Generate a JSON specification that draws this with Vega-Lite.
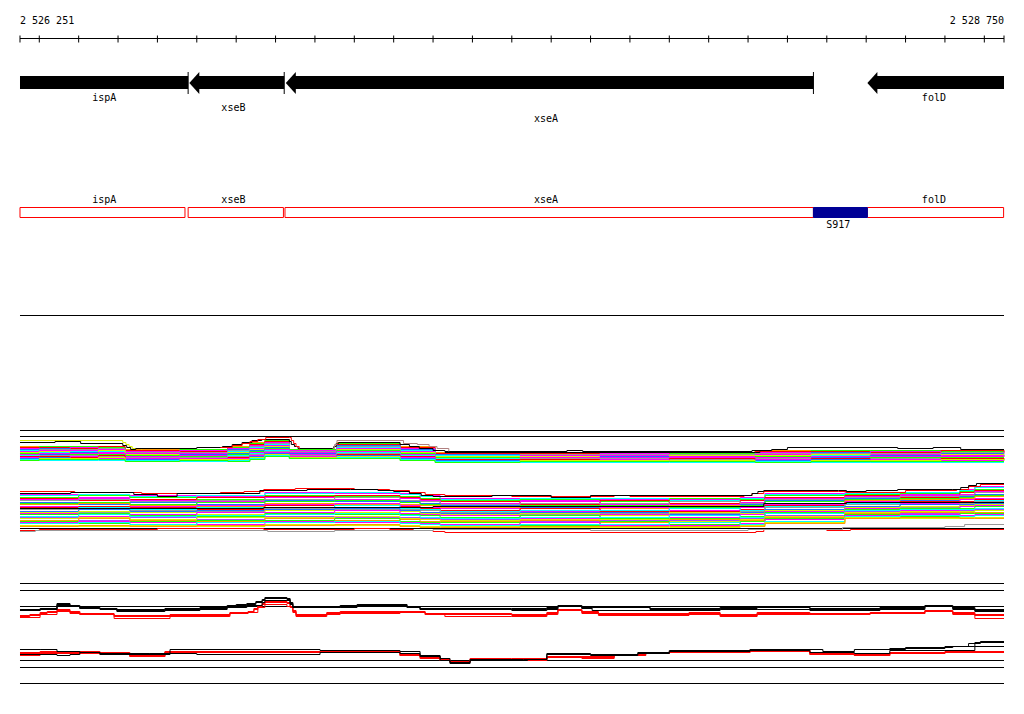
{
"$schema":"https://vega.github.io/schema/vega-lite/v6.json",
"width":1024,"height":714,"padding":0,"autosize":{"type":"none"},
"background":"#ffffff",
"config":{"view":{"stroke":null},"text":{"font":"DejaVu Sans Mono","fontSize":10,"color":"#000000"}},
"datasets":{
"hlines":[{"level":38},{"level":315},{"level":430},{"level":436},{"level":528},{"level":583},{"level":590},{"level":606},{"level":660},{"level":667},{"level":683}],
"ticks":[{"pos":2526251},{"pos":2526300},{"pos":2526400},{"pos":2526500},{"pos":2526600},{"pos":2526700},{"pos":2526800},{"pos":2526900},{"pos":2527000},{"pos":2527100},{"pos":2527200},{"pos":2527300},{"pos":2527400},{"pos":2527500},{"pos":2527600},{"pos":2527700},{"pos":2527800},{"pos":2527900},{"pos":2528000},{"pos":2528100},{"pos":2528200},{"pos":2528300},{"pos":2528400},{"pos":2528500},{"pos":2528600},{"pos":2528700},{"pos":2528750}],
"genes":[
{"gene":"ispA","start":2526251,"end":2526678,"mid":2526465,"lane":0,"head":false,"endtick":true},
{"gene":"xseB","start":2526681,"end":2526922,"mid":2526793,"lane":1,"head":true,"endtick":true},
{"gene":"xseA","start":2526926,"end":2528266,"mid":2527587,"lane":2,"head":true,"endtick":true},
{"gene":"folD","start":2528403,"end":2528750,"mid":2528572,"lane":0,"head":true,"endtick":false}],
"features":[
{"name":"ispA","start":2526251,"end":2526670,"mid":2526465,"kind":"gene"},
{"name":"xseB","start":2526678,"end":2526920,"mid":2526793,"kind":"gene"},
{"name":"xseA","start":2526924,"end":2528266,"mid":2527587,"kind":"gene"},
{"name":"folD","start":2528403,"end":2528749,"mid":2528572,"kind":"gene"},
{"name":"S917","start":2528266,"end":2528403,"mid":2528329,"kind":"region"}],
"series":[
{"s":"a0","c":"o"},{"s":"a1","c":"g"},{"s":"a2","c":"r"},{"s":"a3","c":"m"},{"s":"a4","c":"b"},{"s":"a5","c":"e"},{"s":"a6","c":"c"},{"s":"a7","c":"m"},{"s":"a8","c":"y"},{"s":"a9","c":"b"},{"s":"a10","c":"g"},{"s":"a11","c":"m"},{"s":"a12","c":"c"},{"s":"a13","c":"e"},{"s":"a14","c":"r"},{"s":"a15","c":"m"},{"s":"a16","c":"b"},{"s":"a17","c":"y"},{"s":"a18","c":"c"},{"s":"a19","c":"g"},
{"s":"b0","c":"m"},{"s":"b1","c":"c"},{"s":"b2","c":"g"},{"s":"b3","c":"r"},{"s":"b4","c":"m"},{"s":"b5","c":"e"},{"s":"b6","c":"b"},{"s":"b7","c":"g"},{"s":"b8","c":"o"},{"s":"b9","c":"m"},{"s":"b10","c":"r"},{"s":"b11","c":"c"},{"s":"b12","c":"e"},{"s":"b13","c":"b"},{"s":"b14","c":"y"},{"s":"b15","c":"m"},{"s":"b16","c":"g"},{"s":"b17","c":"c"},{"s":"b18","c":"p"},{"s":"b19","c":"y"},{"s":"b20","c":"o"},{"s":"b21","c":"g"},{"s":"b22","c":"m"},{"s":"b23","c":"c"},{"s":"b24","c":"y"},{"s":"b25","c":"o"},
{"s":"y1","c":"y"},{"s":"k1","c":"k"},{"s":"r1","c":"r"},{"s":"n1","c":"n"},{"s":"k2","c":"k"},{"s":"r2","c":"r"},{"s":"k3","c":"k"},{"s":"k4","c":"k"},{"s":"r3","c":"r"},{"s":"e1","c":"e"},
{"s":"ru1","c":"r"},{"s":"ru2","c":"r"},{"s":"ru3","c":"r"},{"s":"ku1","c":"k"},{"s":"ku2","c":"k"},{"s":"ku3","c":"k"},{"s":"rl1","c":"r"},{"s":"rl2","c":"r"},{"s":"rl3","c":"r"},{"s":"kl1","c":"k"},{"s":"kl2","c":"k"},{"s":"kl3","c":"k"}],
"band":[
{"s":"a0","x":2526251,"y":446},{"s":"a0","x":2526378,"y":447},{"s":"a0","x":2526518,"y":449},{"s":"a0","x":2526657,"y":450},{"s":"a0","x":2526779,"y":446},{"s":"a0","x":2526835,"y":442},{"s":"a0","x":2526873,"y":439},{"s":"a0","x":2526935,"y":449},{"s":"a0","x":2527056,"y":442},{"s":"a0","x":2527216,"y":446},{"s":"a0","x":2527305,"y":452},{"s":"a0","x":2527724,"y":453},{"s":"a0","x":2528118,"y":450},{"s":"a0","x":2528410,"y":451},{"s":"a0","x":2528750,"y":451},
{"s":"a1","x":2526251,"y":447},{"s":"a1","x":2526378,"y":446},{"s":"a1","x":2526518,"y":450},{"s":"a1","x":2526657,"y":449},{"s":"a1","x":2526779,"y":447},{"s":"a1","x":2526835,"y":443},{"s":"a1","x":2526873,"y":440},{"s":"a1","x":2526935,"y":449},{"s":"a1","x":2527056,"y":443},{"s":"a1","x":2527216,"y":447},{"s":"a1","x":2527305,"y":453},{"s":"a1","x":2527724,"y":452},{"s":"a1","x":2528118,"y":451},{"s":"a1","x":2528410,"y":450},{"s":"a1","x":2528750,"y":450},
{"s":"a2","x":2526251,"y":447},{"s":"a2","x":2526378,"y":448},{"s":"a2","x":2526518,"y":450},{"s":"a2","x":2526657,"y":451},{"s":"a2","x":2526779,"y":448},{"s":"a2","x":2526835,"y":444},{"s":"a2","x":2526873,"y":441},{"s":"a2","x":2526935,"y":450},{"s":"a2","x":2527056,"y":444},{"s":"a2","x":2527216,"y":447},{"s":"a2","x":2527305,"y":453},{"s":"a2","x":2527724,"y":454},{"s":"a2","x":2528118,"y":451},{"s":"a2","x":2528410,"y":452},{"s":"a2","x":2528750,"y":452},
{"s":"a3","x":2526251,"y":448},{"s":"a3","x":2526378,"y":447},{"s":"a3","x":2526518,"y":451},{"s":"a3","x":2526657,"y":450},{"s":"a3","x":2526779,"y":448},{"s":"a3","x":2526835,"y":445},{"s":"a3","x":2526873,"y":442},{"s":"a3","x":2526935,"y":450},{"s":"a3","x":2527056,"y":445},{"s":"a3","x":2527216,"y":448},{"s":"a3","x":2527305,"y":454},{"s":"a3","x":2527724,"y":453},{"s":"a3","x":2528118,"y":452},{"s":"a3","x":2528410,"y":451},{"s":"a3","x":2528750,"y":451},
{"s":"a4","x":2526251,"y":449},{"s":"a4","x":2526378,"y":450},{"s":"a4","x":2526518,"y":452},{"s":"a4","x":2526657,"y":452},{"s":"a4","x":2526779,"y":449},{"s":"a4","x":2526835,"y":446},{"s":"a4","x":2526873,"y":443},{"s":"a4","x":2526935,"y":451},{"s":"a4","x":2527056,"y":445},{"s":"a4","x":2527216,"y":449},{"s":"a4","x":2527305,"y":454},{"s":"a4","x":2527724,"y":455},{"s":"a4","x":2528118,"y":453},{"s":"a4","x":2528410,"y":453},{"s":"a4","x":2528750,"y":453},
{"s":"a5","x":2526251,"y":450},{"s":"a5","x":2526378,"y":449},{"s":"a5","x":2526518,"y":452},{"s":"a5","x":2526657,"y":452},{"s":"a5","x":2526779,"y":450},{"s":"a5","x":2526835,"y":446},{"s":"a5","x":2526873,"y":443},{"s":"a5","x":2526935,"y":451},{"s":"a5","x":2527056,"y":446},{"s":"a5","x":2527216,"y":450},{"s":"a5","x":2527305,"y":455},{"s":"a5","x":2527724,"y":454},{"s":"a5","x":2528118,"y":453},{"s":"a5","x":2528410,"y":453},{"s":"a5","x":2528750,"y":453},
{"s":"a6","x":2526251,"y":450},{"s":"a6","x":2526378,"y":451},{"s":"a6","x":2526518,"y":453},{"s":"a6","x":2526657,"y":453},{"s":"a6","x":2526779,"y":451},{"s":"a6","x":2526835,"y":447},{"s":"a6","x":2526873,"y":444},{"s":"a6","x":2526935,"y":452},{"s":"a6","x":2527056,"y":447},{"s":"a6","x":2527216,"y":450},{"s":"a6","x":2527305,"y":455},{"s":"a6","x":2527724,"y":456},{"s":"a6","x":2528118,"y":454},{"s":"a6","x":2528410,"y":454},{"s":"a6","x":2528750,"y":454},
{"s":"a7","x":2526251,"y":451},{"s":"a7","x":2526378,"y":450},{"s":"a7","x":2526518,"y":453},{"s":"a7","x":2526657,"y":453},{"s":"a7","x":2526779,"y":452},{"s":"a7","x":2526835,"y":448},{"s":"a7","x":2526873,"y":445},{"s":"a7","x":2526935,"y":452},{"s":"a7","x":2527056,"y":448},{"s":"a7","x":2527216,"y":451},{"s":"a7","x":2527305,"y":456},{"s":"a7","x":2527724,"y":455},{"s":"a7","x":2528118,"y":454},{"s":"a7","x":2528410,"y":454},{"s":"a7","x":2528750,"y":454},
{"s":"a8","x":2526251,"y":452},{"s":"a8","x":2526378,"y":453},{"s":"a8","x":2526518,"y":454},{"s":"a8","x":2526657,"y":455},{"s":"a8","x":2526779,"y":452},{"s":"a8","x":2526835,"y":449},{"s":"a8","x":2526873,"y":446},{"s":"a8","x":2526935,"y":453},{"s":"a8","x":2527056,"y":449},{"s":"a8","x":2527216,"y":452},{"s":"a8","x":2527305,"y":456},{"s":"a8","x":2527724,"y":457},{"s":"a8","x":2528118,"y":455},{"s":"a8","x":2528410,"y":456},{"s":"a8","x":2528750,"y":456},
{"s":"a9","x":2526251,"y":453},{"s":"a9","x":2526378,"y":452},{"s":"a9","x":2526518,"y":455},{"s":"a9","x":2526657,"y":454},{"s":"a9","x":2526779,"y":453},{"s":"a9","x":2526835,"y":450},{"s":"a9","x":2526873,"y":447},{"s":"a9","x":2526935,"y":453},{"s":"a9","x":2527056,"y":450},{"s":"a9","x":2527216,"y":453},{"s":"a9","x":2527305,"y":457},{"s":"a9","x":2527724,"y":456},{"s":"a9","x":2528118,"y":456},{"s":"a9","x":2528410,"y":455},{"s":"a9","x":2528750,"y":455},
{"s":"a10","x":2526251,"y":453},{"s":"a10","x":2526378,"y":454},{"s":"a10","x":2526518,"y":455},{"s":"a10","x":2526657,"y":456},{"s":"a10","x":2526779,"y":454},{"s":"a10","x":2526835,"y":451},{"s":"a10","x":2526873,"y":448},{"s":"a10","x":2526935,"y":454},{"s":"a10","x":2527056,"y":450},{"s":"a10","x":2527216,"y":453},{"s":"a10","x":2527305,"y":457},{"s":"a10","x":2527724,"y":458},{"s":"a10","x":2528118,"y":456},{"s":"a10","x":2528410,"y":457},{"s":"a10","x":2528750,"y":457},
{"s":"a11","x":2526251,"y":454},{"s":"a11","x":2526378,"y":453},{"s":"a11","x":2526518,"y":456},{"s":"a11","x":2526657,"y":455},{"s":"a11","x":2526779,"y":455},{"s":"a11","x":2526835,"y":452},{"s":"a11","x":2526873,"y":449},{"s":"a11","x":2526935,"y":454},{"s":"a11","x":2527056,"y":451},{"s":"a11","x":2527216,"y":454},{"s":"a11","x":2527305,"y":458},{"s":"a11","x":2527724,"y":457},{"s":"a11","x":2528118,"y":457},{"s":"a11","x":2528410,"y":456},{"s":"a11","x":2528750,"y":456},
{"s":"a12","x":2526251,"y":455},{"s":"a12","x":2526378,"y":456},{"s":"a12","x":2526518,"y":457},{"s":"a12","x":2526657,"y":457},{"s":"a12","x":2526779,"y":455},{"s":"a12","x":2526835,"y":453},{"s":"a12","x":2526873,"y":450},{"s":"a12","x":2526935,"y":455},{"s":"a12","x":2527056,"y":452},{"s":"a12","x":2527216,"y":455},{"s":"a12","x":2527305,"y":458},{"s":"a12","x":2527724,"y":459},{"s":"a12","x":2528118,"y":458},{"s":"a12","x":2528410,"y":458},{"s":"a12","x":2528750,"y":458},
{"s":"a13","x":2526251,"y":456},{"s":"a13","x":2526378,"y":455},{"s":"a13","x":2526518,"y":457},{"s":"a13","x":2526657,"y":457},{"s":"a13","x":2526779,"y":456},{"s":"a13","x":2526835,"y":454},{"s":"a13","x":2526873,"y":451},{"s":"a13","x":2526935,"y":455},{"s":"a13","x":2527056,"y":453},{"s":"a13","x":2527216,"y":456},{"s":"a13","x":2527305,"y":459},{"s":"a13","x":2527724,"y":458},{"s":"a13","x":2528118,"y":458},{"s":"a13","x":2528410,"y":458},{"s":"a13","x":2528750,"y":458},
{"s":"a14","x":2526251,"y":456},{"s":"a14","x":2526378,"y":457},{"s":"a14","x":2526518,"y":458},{"s":"a14","x":2526657,"y":458},{"s":"a14","x":2526779,"y":457},{"s":"a14","x":2526835,"y":455},{"s":"a14","x":2526873,"y":452},{"s":"a14","x":2526935,"y":456},{"s":"a14","x":2527056,"y":454},{"s":"a14","x":2527216,"y":456},{"s":"a14","x":2527305,"y":459},{"s":"a14","x":2527724,"y":460},{"s":"a14","x":2528118,"y":459},{"s":"a14","x":2528410,"y":459},{"s":"a14","x":2528750,"y":459},
{"s":"a15","x":2526251,"y":457},{"s":"a15","x":2526378,"y":456},{"s":"a15","x":2526518,"y":458},{"s":"a15","x":2526657,"y":458},{"s":"a15","x":2526779,"y":458},{"s":"a15","x":2526835,"y":455},{"s":"a15","x":2526873,"y":452},{"s":"a15","x":2526935,"y":456},{"s":"a15","x":2527056,"y":455},{"s":"a15","x":2527216,"y":457},{"s":"a15","x":2527305,"y":460},{"s":"a15","x":2527724,"y":459},{"s":"a15","x":2528118,"y":459},{"s":"a15","x":2528410,"y":459},{"s":"a15","x":2528750,"y":459},
{"s":"a16","x":2526251,"y":458},{"s":"a16","x":2526378,"y":459},{"s":"a16","x":2526518,"y":459},{"s":"a16","x":2526657,"y":460},{"s":"a16","x":2526779,"y":459},{"s":"a16","x":2526835,"y":456},{"s":"a16","x":2526873,"y":453},{"s":"a16","x":2526935,"y":457},{"s":"a16","x":2527056,"y":455},{"s":"a16","x":2527216,"y":458},{"s":"a16","x":2527305,"y":460},{"s":"a16","x":2527724,"y":461},{"s":"a16","x":2528118,"y":460},{"s":"a16","x":2528410,"y":461},{"s":"a16","x":2528750,"y":461},
{"s":"a17","x":2526251,"y":459},{"s":"a17","x":2526378,"y":458},{"s":"a17","x":2526518,"y":460},{"s":"a17","x":2526657,"y":459},{"s":"a17","x":2526779,"y":459},{"s":"a17","x":2526835,"y":457},{"s":"a17","x":2526873,"y":454},{"s":"a17","x":2526935,"y":457},{"s":"a17","x":2527056,"y":456},{"s":"a17","x":2527216,"y":459},{"s":"a17","x":2527305,"y":461},{"s":"a17","x":2527724,"y":460},{"s":"a17","x":2528118,"y":461},{"s":"a17","x":2528410,"y":460},{"s":"a17","x":2528750,"y":460},
{"s":"a18","x":2526251,"y":459},{"s":"a18","x":2526378,"y":460},{"s":"a18","x":2526518,"y":460},{"s":"a18","x":2526657,"y":461},{"s":"a18","x":2526779,"y":460},{"s":"a18","x":2526835,"y":458},{"s":"a18","x":2526873,"y":455},{"s":"a18","x":2526935,"y":458},{"s":"a18","x":2527056,"y":457},{"s":"a18","x":2527216,"y":459},{"s":"a18","x":2527305,"y":461},{"s":"a18","x":2527724,"y":462},{"s":"a18","x":2528118,"y":461},{"s":"a18","x":2528410,"y":462},{"s":"a18","x":2528750,"y":462},
{"s":"a19","x":2526251,"y":460},{"s":"a19","x":2526378,"y":459},{"s":"a19","x":2526518,"y":461},{"s":"a19","x":2526657,"y":460},{"s":"a19","x":2526779,"y":461},{"s":"a19","x":2526835,"y":459},{"s":"a19","x":2526873,"y":456},{"s":"a19","x":2526935,"y":458},{"s":"a19","x":2527056,"y":458},{"s":"a19","x":2527216,"y":460},{"s":"a19","x":2527305,"y":462},{"s":"a19","x":2527724,"y":461},{"s":"a19","x":2528118,"y":462},{"s":"a19","x":2528410,"y":461},{"s":"a19","x":2528750,"y":461},
{"s":"a0","x":2526300,"y":447},{"s":"a0","x":2526450,"y":447},{"s":"a0","x":2527521,"y":453},{"s":"a0","x":2527900,"y":453},{"s":"a0","x":2528260,"y":451},{"s":"a0","x":2528590,"y":451},
{"s":"a1","x":2526300,"y":446},{"s":"a1","x":2526450,"y":447},{"s":"a1","x":2527521,"y":452},{"s":"a1","x":2527900,"y":453},{"s":"a1","x":2528260,"y":450},{"s":"a1","x":2528590,"y":451},
{"s":"a2","x":2526300,"y":447},{"s":"a2","x":2526450,"y":446},{"s":"a2","x":2527521,"y":453},{"s":"a2","x":2527900,"y":452},{"s":"a2","x":2528260,"y":451},{"s":"a2","x":2528590,"y":450},
{"s":"a3","x":2526300,"y":450},{"s":"a3","x":2526450,"y":449},{"s":"a3","x":2527521,"y":455},{"s":"a3","x":2527900,"y":454},{"s":"a3","x":2528260,"y":453},{"s":"a3","x":2528590,"y":453},
{"s":"a4","x":2526300,"y":448},{"s":"a4","x":2526450,"y":450},{"s":"a4","x":2527521,"y":454},{"s":"a4","x":2527900,"y":455},{"s":"a4","x":2528260,"y":452},{"s":"a4","x":2528590,"y":453},
{"s":"a5","x":2526300,"y":449},{"s":"a5","x":2526450,"y":448},{"s":"a5","x":2527521,"y":454},{"s":"a5","x":2527900,"y":454},{"s":"a5","x":2528260,"y":453},{"s":"a5","x":2528590,"y":452},
{"s":"a6","x":2526300,"y":452},{"s":"a6","x":2526450,"y":451},{"s":"a6","x":2527521,"y":456},{"s":"a6","x":2527900,"y":456},{"s":"a6","x":2528260,"y":455},{"s":"a6","x":2528590,"y":454},
{"s":"a7","x":2526300,"y":450},{"s":"a7","x":2526450,"y":452},{"s":"a7","x":2527521,"y":455},{"s":"a7","x":2527900,"y":456},{"s":"a7","x":2528260,"y":454},{"s":"a7","x":2528590,"y":455},
{"s":"a8","x":2526300,"y":451},{"s":"a8","x":2526450,"y":450},{"s":"a8","x":2527521,"y":456},{"s":"a8","x":2527900,"y":455},{"s":"a8","x":2528260,"y":454},{"s":"a8","x":2528590,"y":454},
{"s":"a9","x":2526300,"y":454},{"s":"a9","x":2526450,"y":453},{"s":"a9","x":2527521,"y":458},{"s":"a9","x":2527900,"y":457},{"s":"a9","x":2528260,"y":457},{"s":"a9","x":2528590,"y":456},
{"s":"a10","x":2526300,"y":453},{"s":"a10","x":2526450,"y":454},{"s":"a10","x":2527521,"y":457},{"s":"a10","x":2527900,"y":458},{"s":"a10","x":2528260,"y":456},{"s":"a10","x":2528590,"y":457},
{"s":"a11","x":2526300,"y":453},{"s":"a11","x":2526450,"y":453},{"s":"a11","x":2527521,"y":457},{"s":"a11","x":2527900,"y":457},{"s":"a11","x":2528260,"y":456},{"s":"a11","x":2528590,"y":456},
{"s":"a12","x":2526300,"y":456},{"s":"a12","x":2526450,"y":456},{"s":"a12","x":2527521,"y":459},{"s":"a12","x":2527900,"y":459},{"s":"a12","x":2528260,"y":459},{"s":"a12","x":2528590,"y":458},
{"s":"a13","x":2526300,"y":455},{"s":"a13","x":2526450,"y":456},{"s":"a13","x":2527521,"y":458},{"s":"a13","x":2527900,"y":459},{"s":"a13","x":2528260,"y":458},{"s":"a13","x":2528590,"y":459},
{"s":"a14","x":2526300,"y":456},{"s":"a14","x":2526450,"y":455},{"s":"a14","x":2527521,"y":459},{"s":"a14","x":2527900,"y":458},{"s":"a14","x":2528260,"y":458},{"s":"a14","x":2528590,"y":458},
{"s":"a15","x":2526300,"y":459},{"s":"a15","x":2526450,"y":458},{"s":"a15","x":2527521,"y":461},{"s":"a15","x":2527900,"y":460},{"s":"a15","x":2528260,"y":461},{"s":"a15","x":2528590,"y":460},
{"s":"a16","x":2526300,"y":457},{"s":"a16","x":2526450,"y":459},{"s":"a16","x":2527521,"y":460},{"s":"a16","x":2527900,"y":461},{"s":"a16","x":2528260,"y":459},{"s":"a16","x":2528590,"y":461},
{"s":"a17","x":2526300,"y":458},{"s":"a17","x":2526450,"y":457},{"s":"a17","x":2527521,"y":460},{"s":"a17","x":2527900,"y":460},{"s":"a17","x":2528260,"y":460},{"s":"a17","x":2528590,"y":459},
{"s":"a18","x":2526300,"y":460},{"s":"a18","x":2526450,"y":460},{"s":"a18","x":2527521,"y":462},{"s":"a18","x":2527900,"y":462},{"s":"a18","x":2528260,"y":462},{"s":"a18","x":2528590,"y":462},
{"s":"a19","x":2526300,"y":459},{"s":"a19","x":2526450,"y":459},{"s":"a19","x":2527521,"y":461},{"s":"a19","x":2527900,"y":461},{"s":"a19","x":2528260,"y":461},{"s":"a19","x":2528590,"y":461},
{"s":"b0","x":2526251,"y":494},{"s":"b0","x":2526530,"y":495},{"s":"b0","x":2526700,"y":496},{"s":"b0","x":2526873,"y":492},{"s":"b0","x":2527050,"y":493},{"s":"b0","x":2527216,"y":493},{"s":"b0","x":2527267,"y":495},{"s":"b0","x":2527318,"y":498},{"s":"b0","x":2527724,"y":499},{"s":"b0","x":2528080,"y":497},{"s":"b0","x":2528143,"y":493},{"s":"b0","x":2528346,"y":492},{"s":"b0","x":2528638,"y":489},{"s":"b0","x":2528676,"y":486},{"s":"b0","x":2528750,"y":486},
{"s":"b1","x":2526251,"y":495},{"s":"b1","x":2526530,"y":496},{"s":"b1","x":2526700,"y":495},{"s":"b1","x":2526873,"y":493},{"s":"b1","x":2527050,"y":492},{"s":"b1","x":2527216,"y":494},{"s":"b1","x":2527267,"y":496},{"s":"b1","x":2527318,"y":499},{"s":"b1","x":2527724,"y":498},{"s":"b1","x":2528080,"y":498},{"s":"b1","x":2528143,"y":494},{"s":"b1","x":2528346,"y":493},{"s":"b1","x":2528638,"y":490},{"s":"b1","x":2528676,"y":487},{"s":"b1","x":2528750,"y":487},
{"s":"b2","x":2526251,"y":497},{"s":"b2","x":2526530,"y":497},{"s":"b2","x":2526700,"y":499},{"s":"b2","x":2526873,"y":495},{"s":"b2","x":2527050,"y":496},{"s":"b2","x":2527216,"y":496},{"s":"b2","x":2527267,"y":498},{"s":"b2","x":2527318,"y":500},{"s":"b2","x":2527724,"y":501},{"s":"b2","x":2528080,"y":499},{"s":"b2","x":2528143,"y":495},{"s":"b2","x":2528346,"y":494},{"s":"b2","x":2528638,"y":491},{"s":"b2","x":2528676,"y":489},{"s":"b2","x":2528750,"y":489},
{"s":"b3","x":2526251,"y":498},{"s":"b3","x":2526530,"y":499},{"s":"b3","x":2526700,"y":497},{"s":"b3","x":2526873,"y":496},{"s":"b3","x":2527050,"y":495},{"s":"b3","x":2527216,"y":497},{"s":"b3","x":2527267,"y":499},{"s":"b3","x":2527318,"y":501},{"s":"b3","x":2527724,"y":500},{"s":"b3","x":2528080,"y":500},{"s":"b3","x":2528143,"y":497},{"s":"b3","x":2528346,"y":495},{"s":"b3","x":2528638,"y":492},{"s":"b3","x":2528676,"y":490},{"s":"b3","x":2528750,"y":490},
{"s":"b4","x":2526251,"y":499},{"s":"b4","x":2526530,"y":500},{"s":"b4","x":2526700,"y":501},{"s":"b4","x":2526873,"y":497},{"s":"b4","x":2527050,"y":499},{"s":"b4","x":2527216,"y":498},{"s":"b4","x":2527267,"y":500},{"s":"b4","x":2527318,"y":503},{"s":"b4","x":2527724,"y":504},{"s":"b4","x":2528080,"y":502},{"s":"b4","x":2528143,"y":498},{"s":"b4","x":2528346,"y":496},{"s":"b4","x":2528638,"y":494},{"s":"b4","x":2528676,"y":491},{"s":"b4","x":2528750,"y":491},
{"s":"b5","x":2526251,"y":500},{"s":"b5","x":2526530,"y":501},{"s":"b5","x":2526700,"y":500},{"s":"b5","x":2526873,"y":499},{"s":"b5","x":2527050,"y":497},{"s":"b5","x":2527216,"y":500},{"s":"b5","x":2527267,"y":501},{"s":"b5","x":2527318,"y":504},{"s":"b5","x":2527724,"y":503},{"s":"b5","x":2528080,"y":503},{"s":"b5","x":2528143,"y":499},{"s":"b5","x":2528346,"y":497},{"s":"b5","x":2528638,"y":495},{"s":"b5","x":2528676,"y":492},{"s":"b5","x":2528750,"y":492},
{"s":"b6","x":2526251,"y":502},{"s":"b6","x":2526530,"y":502},{"s":"b6","x":2526700,"y":504},{"s":"b6","x":2526873,"y":500},{"s":"b6","x":2527050,"y":501},{"s":"b6","x":2527216,"y":501},{"s":"b6","x":2527267,"y":503},{"s":"b6","x":2527318,"y":505},{"s":"b6","x":2527724,"y":506},{"s":"b6","x":2528080,"y":504},{"s":"b6","x":2528143,"y":500},{"s":"b6","x":2528346,"y":498},{"s":"b6","x":2528638,"y":496},{"s":"b6","x":2528676,"y":494},{"s":"b6","x":2528750,"y":494},
{"s":"b7","x":2526251,"y":503},{"s":"b7","x":2526530,"y":504},{"s":"b7","x":2526700,"y":502},{"s":"b7","x":2526873,"y":501},{"s":"b7","x":2527050,"y":500},{"s":"b7","x":2527216,"y":502},{"s":"b7","x":2527267,"y":504},{"s":"b7","x":2527318,"y":506},{"s":"b7","x":2527724,"y":505},{"s":"b7","x":2528080,"y":505},{"s":"b7","x":2528143,"y":501},{"s":"b7","x":2528346,"y":499},{"s":"b7","x":2528638,"y":497},{"s":"b7","x":2528676,"y":495},{"s":"b7","x":2528750,"y":495},
{"s":"b8","x":2526251,"y":504},{"s":"b8","x":2526530,"y":505},{"s":"b8","x":2526700,"y":506},{"s":"b8","x":2526873,"y":503},{"s":"b8","x":2527050,"y":504},{"s":"b8","x":2527216,"y":504},{"s":"b8","x":2527267,"y":505},{"s":"b8","x":2527318,"y":507},{"s":"b8","x":2527724,"y":508},{"s":"b8","x":2528080,"y":506},{"s":"b8","x":2528143,"y":503},{"s":"b8","x":2528346,"y":500},{"s":"b8","x":2528638,"y":498},{"s":"b8","x":2528676,"y":496},{"s":"b8","x":2528750,"y":496},
{"s":"b9","x":2526251,"y":506},{"s":"b9","x":2526530,"y":506},{"s":"b9","x":2526700,"y":505},{"s":"b9","x":2526873,"y":504},{"s":"b9","x":2527050,"y":503},{"s":"b9","x":2527216,"y":505},{"s":"b9","x":2527267,"y":507},{"s":"b9","x":2527318,"y":508},{"s":"b9","x":2527724,"y":507},{"s":"b9","x":2528080,"y":507},{"s":"b9","x":2528143,"y":504},{"s":"b9","x":2528346,"y":501},{"s":"b9","x":2528638,"y":499},{"s":"b9","x":2528676,"y":498},{"s":"b9","x":2528750,"y":498},
{"s":"b10","x":2526251,"y":507},{"s":"b10","x":2526530,"y":507},{"s":"b10","x":2526700,"y":509},{"s":"b10","x":2526873,"y":505},{"s":"b10","x":2527050,"y":507},{"s":"b10","x":2527216,"y":506},{"s":"b10","x":2527267,"y":508},{"s":"b10","x":2527318,"y":510},{"s":"b10","x":2527724,"y":511},{"s":"b10","x":2528080,"y":509},{"s":"b10","x":2528143,"y":505},{"s":"b10","x":2528346,"y":502},{"s":"b10","x":2528638,"y":501},{"s":"b10","x":2528676,"y":499},{"s":"b10","x":2528750,"y":499},
{"s":"b11","x":2526251,"y":508},{"s":"b11","x":2526530,"y":509},{"s":"b11","x":2526700,"y":507},{"s":"b11","x":2526873,"y":507},{"s":"b11","x":2527050,"y":505},{"s":"b11","x":2527216,"y":508},{"s":"b11","x":2527267,"y":509},{"s":"b11","x":2527318,"y":511},{"s":"b11","x":2527724,"y":510},{"s":"b11","x":2528080,"y":510},{"s":"b11","x":2528143,"y":506},{"s":"b11","x":2528346,"y":503},{"s":"b11","x":2528638,"y":502},{"s":"b11","x":2528676,"y":500},{"s":"b11","x":2528750,"y":500},
{"s":"b12","x":2526251,"y":509},{"s":"b12","x":2526530,"y":510},{"s":"b12","x":2526700,"y":511},{"s":"b12","x":2526873,"y":508},{"s":"b12","x":2527050,"y":509},{"s":"b12","x":2527216,"y":509},{"s":"b12","x":2527267,"y":510},{"s":"b12","x":2527318,"y":512},{"s":"b12","x":2527724,"y":513},{"s":"b12","x":2528080,"y":511},{"s":"b12","x":2528143,"y":507},{"s":"b12","x":2528346,"y":504},{"s":"b12","x":2528638,"y":503},{"s":"b12","x":2528676,"y":501},{"s":"b12","x":2528750,"y":501},
{"s":"b13","x":2526251,"y":511},{"s":"b13","x":2526530,"y":511},{"s":"b13","x":2526700,"y":510},{"s":"b13","x":2526873,"y":509},{"s":"b13","x":2527050,"y":508},{"s":"b13","x":2527216,"y":510},{"s":"b13","x":2527267,"y":512},{"s":"b13","x":2527318,"y":513},{"s":"b13","x":2527724,"y":512},{"s":"b13","x":2528080,"y":512},{"s":"b13","x":2528143,"y":509},{"s":"b13","x":2528346,"y":506},{"s":"b13","x":2528638,"y":504},{"s":"b13","x":2528676,"y":503},{"s":"b13","x":2528750,"y":503},
{"s":"b14","x":2526251,"y":512},{"s":"b14","x":2526530,"y":512},{"s":"b14","x":2526700,"y":514},{"s":"b14","x":2526873,"y":510},{"s":"b14","x":2527050,"y":512},{"s":"b14","x":2527216,"y":511},{"s":"b14","x":2527267,"y":513},{"s":"b14","x":2527318,"y":514},{"s":"b14","x":2527724,"y":515},{"s":"b14","x":2528080,"y":513},{"s":"b14","x":2528143,"y":510},{"s":"b14","x":2528346,"y":507},{"s":"b14","x":2528638,"y":505},{"s":"b14","x":2528676,"y":504},{"s":"b14","x":2528750,"y":504},
{"s":"b15","x":2526251,"y":513},{"s":"b15","x":2526530,"y":514},{"s":"b15","x":2526700,"y":512},{"s":"b15","x":2526873,"y":512},{"s":"b15","x":2527050,"y":510},{"s":"b15","x":2527216,"y":513},{"s":"b15","x":2527267,"y":514},{"s":"b15","x":2527318,"y":515},{"s":"b15","x":2527724,"y":514},{"s":"b15","x":2528080,"y":514},{"s":"b15","x":2528143,"y":511},{"s":"b15","x":2528346,"y":508},{"s":"b15","x":2528638,"y":506},{"s":"b15","x":2528676,"y":505},{"s":"b15","x":2528750,"y":505},
{"s":"b16","x":2526251,"y":514},{"s":"b16","x":2526530,"y":515},{"s":"b16","x":2526700,"y":516},{"s":"b16","x":2526873,"y":513},{"s":"b16","x":2527050,"y":514},{"s":"b16","x":2527216,"y":514},{"s":"b16","x":2527267,"y":515},{"s":"b16","x":2527318,"y":517},{"s":"b16","x":2527724,"y":518},{"s":"b16","x":2528080,"y":516},{"s":"b16","x":2528143,"y":512},{"s":"b16","x":2528346,"y":509},{"s":"b16","x":2528638,"y":508},{"s":"b16","x":2528676,"y":506},{"s":"b16","x":2528750,"y":506},
{"s":"b17","x":2526251,"y":516},{"s":"b17","x":2526530,"y":516},{"s":"b17","x":2526700,"y":515},{"s":"b17","x":2526873,"y":514},{"s":"b17","x":2527050,"y":513},{"s":"b17","x":2527216,"y":515},{"s":"b17","x":2527267,"y":517},{"s":"b17","x":2527318,"y":518},{"s":"b17","x":2527724,"y":517},{"s":"b17","x":2528080,"y":517},{"s":"b17","x":2528143,"y":513},{"s":"b17","x":2528346,"y":510},{"s":"b17","x":2528638,"y":509},{"s":"b17","x":2528676,"y":508},{"s":"b17","x":2528750,"y":508},
{"s":"b18","x":2526251,"y":517},{"s":"b18","x":2526530,"y":517},{"s":"b18","x":2526700,"y":519},{"s":"b18","x":2526873,"y":516},{"s":"b18","x":2527050,"y":517},{"s":"b18","x":2527216,"y":517},{"s":"b18","x":2527267,"y":518},{"s":"b18","x":2527318,"y":519},{"s":"b18","x":2527724,"y":520},{"s":"b18","x":2528080,"y":518},{"s":"b18","x":2528143,"y":515},{"s":"b18","x":2528346,"y":511},{"s":"b18","x":2528638,"y":510},{"s":"b18","x":2528676,"y":509},{"s":"b18","x":2528750,"y":509},
{"s":"b19","x":2526251,"y":518},{"s":"b19","x":2526530,"y":519},{"s":"b19","x":2526700,"y":517},{"s":"b19","x":2526873,"y":517},{"s":"b19","x":2527050,"y":516},{"s":"b19","x":2527216,"y":518},{"s":"b19","x":2527267,"y":519},{"s":"b19","x":2527318,"y":520},{"s":"b19","x":2527724,"y":519},{"s":"b19","x":2528080,"y":519},{"s":"b19","x":2528143,"y":516},{"s":"b19","x":2528346,"y":512},{"s":"b19","x":2528638,"y":511},{"s":"b19","x":2528676,"y":510},{"s":"b19","x":2528750,"y":510},
{"s":"b20","x":2526251,"y":520},{"s":"b20","x":2526530,"y":520},{"s":"b20","x":2526700,"y":521},{"s":"b20","x":2526873,"y":518},{"s":"b20","x":2527050,"y":520},{"s":"b20","x":2527216,"y":519},{"s":"b20","x":2527267,"y":521},{"s":"b20","x":2527318,"y":521},{"s":"b20","x":2527724,"y":522},{"s":"b20","x":2528080,"y":520},{"s":"b20","x":2528143,"y":517},{"s":"b20","x":2528346,"y":513},{"s":"b20","x":2528638,"y":512},{"s":"b20","x":2528676,"y":512},{"s":"b20","x":2528750,"y":512},
{"s":"b21","x":2526251,"y":521},{"s":"b21","x":2526530,"y":521},{"s":"b21","x":2526700,"y":520},{"s":"b21","x":2526873,"y":520},{"s":"b21","x":2527050,"y":518},{"s":"b21","x":2527216,"y":521},{"s":"b21","x":2527267,"y":522},{"s":"b21","x":2527318,"y":522},{"s":"b21","x":2527724,"y":521},{"s":"b21","x":2528080,"y":521},{"s":"b21","x":2528143,"y":518},{"s":"b21","x":2528346,"y":514},{"s":"b21","x":2528638,"y":513},{"s":"b21","x":2528676,"y":513},{"s":"b21","x":2528750,"y":513},
{"s":"b22","x":2526251,"y":522},{"s":"b22","x":2526530,"y":522},{"s":"b22","x":2526700,"y":524},{"s":"b22","x":2526873,"y":521},{"s":"b22","x":2527050,"y":522},{"s":"b22","x":2527216,"y":522},{"s":"b22","x":2527267,"y":523},{"s":"b22","x":2527318,"y":524},{"s":"b22","x":2527724,"y":525},{"s":"b22","x":2528080,"y":523},{"s":"b22","x":2528143,"y":519},{"s":"b22","x":2528346,"y":515},{"s":"b22","x":2528638,"y":515},{"s":"b22","x":2528676,"y":514},{"s":"b22","x":2528750,"y":514},
{"s":"b23","x":2526251,"y":523},{"s":"b23","x":2526530,"y":524},{"s":"b23","x":2526700,"y":522},{"s":"b23","x":2526873,"y":522},{"s":"b23","x":2527050,"y":521},{"s":"b23","x":2527216,"y":523},{"s":"b23","x":2527267,"y":524},{"s":"b23","x":2527318,"y":525},{"s":"b23","x":2527724,"y":524},{"s":"b23","x":2528080,"y":524},{"s":"b23","x":2528143,"y":521},{"s":"b23","x":2528346,"y":516},{"s":"b23","x":2528638,"y":516},{"s":"b23","x":2528676,"y":515},{"s":"b23","x":2528750,"y":515},
{"s":"b24","x":2526251,"y":525},{"s":"b24","x":2526530,"y":525},{"s":"b24","x":2526700,"y":526},{"s":"b24","x":2526873,"y":524},{"s":"b24","x":2527050,"y":525},{"s":"b24","x":2527216,"y":525},{"s":"b24","x":2527267,"y":526},{"s":"b24","x":2527318,"y":526},{"s":"b24","x":2527724,"y":527},{"s":"b24","x":2528080,"y":525},{"s":"b24","x":2528143,"y":522},{"s":"b24","x":2528346,"y":517},{"s":"b24","x":2528638,"y":517},{"s":"b24","x":2528676,"y":517},{"s":"b24","x":2528750,"y":517},
{"s":"b25","x":2526251,"y":526},{"s":"b25","x":2526530,"y":526},{"s":"b25","x":2526700,"y":525},{"s":"b25","x":2526873,"y":525},{"s":"b25","x":2527050,"y":524},{"s":"b25","x":2527216,"y":526},{"s":"b25","x":2527267,"y":527},{"s":"b25","x":2527318,"y":527},{"s":"b25","x":2527724,"y":526},{"s":"b25","x":2528080,"y":526},{"s":"b25","x":2528143,"y":523},{"s":"b25","x":2528346,"y":518},{"s":"b25","x":2528638,"y":518},{"s":"b25","x":2528676,"y":518},{"s":"b25","x":2528750,"y":518},
{"s":"b0","x":2526400,"y":497},{"s":"b0","x":2527521,"y":500},{"s":"b0","x":2527900,"y":499},{"s":"b0","x":2528486,"y":494},
{"s":"b1","x":2526400,"y":494},{"s":"b1","x":2527521,"y":498},{"s":"b1","x":2527900,"y":500},{"s":"b1","x":2528486,"y":492},
{"s":"b2","x":2526400,"y":495},{"s":"b2","x":2527521,"y":499},{"s":"b2","x":2527900,"y":498},{"s":"b2","x":2528486,"y":493},
{"s":"b3","x":2526400,"y":500},{"s":"b3","x":2527521,"y":504},{"s":"b3","x":2527900,"y":503},{"s":"b3","x":2528486,"y":497},
{"s":"b4","x":2526400,"y":498},{"s":"b4","x":2527521,"y":501},{"s":"b4","x":2527900,"y":504},{"s":"b4","x":2528486,"y":495},
{"s":"b5","x":2526400,"y":499},{"s":"b5","x":2527521,"y":503},{"s":"b5","x":2527900,"y":501},{"s":"b5","x":2528486,"y":496},
{"s":"b6","x":2526400,"y":504},{"s":"b6","x":2527521,"y":507},{"s":"b6","x":2527900,"y":506},{"s":"b6","x":2528486,"y":500},
{"s":"b7","x":2526400,"y":502},{"s":"b7","x":2527521,"y":505},{"s":"b7","x":2527900,"y":507},{"s":"b7","x":2528486,"y":498},
{"s":"b8","x":2526400,"y":503},{"s":"b8","x":2527521,"y":506},{"s":"b8","x":2527900,"y":505},{"s":"b8","x":2528486,"y":499},
{"s":"b9","x":2526400,"y":508},{"s":"b9","x":2527521,"y":511},{"s":"b9","x":2527900,"y":510},{"s":"b9","x":2528486,"y":503},
{"s":"b10","x":2526400,"y":506},{"s":"b10","x":2527521,"y":508},{"s":"b10","x":2527900,"y":511},{"s":"b10","x":2528486,"y":501},
{"s":"b11","x":2526400,"y":507},{"s":"b11","x":2527521,"y":510},{"s":"b11","x":2527900,"y":508},{"s":"b11","x":2528486,"y":502},
{"s":"b12","x":2526400,"y":512},{"s":"b12","x":2527521,"y":514},{"s":"b12","x":2527900,"y":513},{"s":"b12","x":2528486,"y":507},
{"s":"b13","x":2526400,"y":509},{"s":"b13","x":2527521,"y":512},{"s":"b13","x":2527900,"y":514},{"s":"b13","x":2528486,"y":504},
{"s":"b14","x":2526400,"y":511},{"s":"b14","x":2527521,"y":513},{"s":"b14","x":2527900,"y":512},{"s":"b14","x":2528486,"y":506},
{"s":"b15","x":2526400,"y":516},{"s":"b15","x":2527521,"y":518},{"s":"b15","x":2527900,"y":517},{"s":"b15","x":2528486,"y":510},
{"s":"b16","x":2526400,"y":513},{"s":"b16","x":2527521,"y":515},{"s":"b16","x":2527900,"y":518},{"s":"b16","x":2528486,"y":508},
{"s":"b17","x":2526400,"y":514},{"s":"b17","x":2527521,"y":517},{"s":"b17","x":2527900,"y":515},{"s":"b17","x":2528486,"y":509},
{"s":"b18","x":2526400,"y":520},{"s":"b18","x":2527521,"y":521},{"s":"b18","x":2527900,"y":520},{"s":"b18","x":2528486,"y":513},
{"s":"b19","x":2526400,"y":517},{"s":"b19","x":2527521,"y":519},{"s":"b19","x":2527900,"y":521},{"s":"b19","x":2528486,"y":511},
{"s":"b20","x":2526400,"y":518},{"s":"b20","x":2527521,"y":520},{"s":"b20","x":2527900,"y":519},{"s":"b20","x":2528486,"y":512},
{"s":"b21","x":2526400,"y":523},{"s":"b21","x":2527521,"y":525},{"s":"b21","x":2527900,"y":524},{"s":"b21","x":2528486,"y":516},
{"s":"b22","x":2526400,"y":521},{"s":"b22","x":2527521,"y":522},{"s":"b22","x":2527900,"y":525},{"s":"b22","x":2528486,"y":514},
{"s":"b23","x":2526400,"y":522},{"s":"b23","x":2527521,"y":524},{"s":"b23","x":2527900,"y":522},{"s":"b23","x":2528486,"y":515},
{"s":"b24","x":2526400,"y":526},{"s":"b24","x":2527521,"y":527},{"s":"b24","x":2527900,"y":527},{"s":"b24","x":2528486,"y":518},
{"s":"b25","x":2526400,"y":525},{"s":"b25","x":2527521,"y":526},{"s":"b25","x":2527900,"y":526},{"s":"b25","x":2528486,"y":517}],
"outline":[
{"s":"y1","x":2526251,"y":440},{"s":"y1","x":2526505,"y":440},{"s":"y1","x":2526512,"y":442},{"s":"y1","x":2526520,"y":444},{"s":"y1","x":2526528,"y":446},{"s":"y1","x":2526536,"y":448},{"s":"y1","x":2526560,"y":449},
{"s":"k1","x":2526251,"y":442},{"s":"k1","x":2526340,"y":441},{"s":"k1","x":2526405,"y":443},{"s":"k1","x":2526512,"y":445},{"s":"k1","x":2526522,"y":447},{"s":"k1","x":2526532,"y":449},{"s":"k1","x":2526545,"y":448},{"s":"k1","x":2526700,"y":447},{"s":"k1","x":2526765,"y":446},{"s":"k1","x":2526790,"y":444},{"s":"k1","x":2526815,"y":442},{"s":"k1","x":2526840,"y":440},{"s":"k1","x":2526865,"y":439},{"s":"k1","x":2526935,"y":441},{"s":"k1","x":2526940,"y":444},{"s":"k1","x":2526948,"y":446},{"s":"k1","x":2526957,"y":448},{"s":"k1","x":2527048,"y":446},{"s":"k1","x":2527054,"y":443},{"s":"k1","x":2527060,"y":442},{"s":"k1","x":2527216,"y":444},{"s":"k1","x":2527240,"y":446},{"s":"k1","x":2527265,"y":448},{"s":"k1","x":2527300,"y":450},{"s":"k1","x":2527330,"y":451},{"s":"k1","x":2527640,"y":450},{"s":"k1","x":2527680,"y":451},{"s":"k1","x":2528110,"y":450},{"s":"k1","x":2528160,"y":449},{"s":"k1","x":2528200,"y":447},{"s":"k1","x":2528480,"y":448},{"s":"k1","x":2528570,"y":447},{"s":"k1","x":2528640,"y":449},{"s":"k1","x":2528750,"y":449},
{"s":"r1","x":2526760,"y":447},{"s":"r1","x":2526790,"y":445},{"s":"r1","x":2526815,"y":443},{"s":"r1","x":2526835,"y":441},{"s":"r1","x":2526855,"y":439},{"s":"r1","x":2526875,"y":437},{"s":"r1","x":2526935,"y":437},{"s":"r1","x":2526940,"y":440},{"s":"r1","x":2526946,"y":443},{"s":"r1","x":2526952,"y":446},{"s":"r1","x":2526960,"y":449},
{"s":"n1","x":2527045,"y":448},{"s":"n1","x":2527050,"y":444},{"s":"n1","x":2527056,"y":440},{"s":"n1","x":2527216,"y":440},{"s":"n1","x":2527225,"y":443},{"s":"n1","x":2527260,"y":444},{"s":"n1","x":2527290,"y":446},{"s":"n1","x":2527310,"y":448},{"s":"n1","x":2527340,"y":451},
{"s":"k2","x":2527330,"y":452},{"s":"k2","x":2528118,"y":452},{"s":"k2","x":2528130,"y":451},
{"s":"r2","x":2526251,"y":491},{"s":"r2","x":2526390,"y":492},{"s":"r2","x":2526560,"y":493},{"s":"r2","x":2526760,"y":492},{"s":"r2","x":2526820,"y":491},{"s":"r2","x":2526870,"y":489},{"s":"r2","x":2526950,"y":488},{"s":"r2","x":2527100,"y":489},{"s":"r2","x":2527190,"y":490},{"s":"r2","x":2527240,"y":492},{"s":"r2","x":2527280,"y":494},{"s":"r2","x":2527330,"y":495},{"s":"r2","x":2527500,"y":496},{"s":"r2","x":2527760,"y":495},{"s":"r2","x":2527800,"y":496},{"s":"r2","x":2528090,"y":495},{"s":"r2","x":2528110,"y":493},{"s":"r2","x":2528140,"y":491},{"s":"r2","x":2528330,"y":491},{"s":"r2","x":2528350,"y":492},{"s":"r2","x":2528500,"y":490},{"s":"r2","x":2528630,"y":489},{"s":"r2","x":2528660,"y":486},{"s":"r2","x":2528690,"y":484},{"s":"r2","x":2528750,"y":484},
{"s":"k3","x":2526251,"y":493},{"s":"k3","x":2526380,"y":492},{"s":"k3","x":2526540,"y":494},{"s":"k3","x":2526600,"y":496},{"s":"k3","x":2526650,"y":493},{"s":"k3","x":2526860,"y":490},{"s":"k3","x":2526980,"y":489},{"s":"k3","x":2527090,"y":489},{"s":"k3","x":2527160,"y":490},{"s":"k3","x":2527200,"y":491},{"s":"k3","x":2527240,"y":493},{"s":"k3","x":2527270,"y":495},{"s":"k3","x":2527300,"y":496},{"s":"k3","x":2527450,"y":495},{"s":"k3","x":2527600,"y":497},{"s":"k3","x":2527700,"y":495},{"s":"k3","x":2528090,"y":495},{"s":"k3","x":2528110,"y":493},{"s":"k3","x":2528125,"y":491},{"s":"k3","x":2528140,"y":490},{"s":"k3","x":2528330,"y":490},{"s":"k3","x":2528350,"y":491},{"s":"k3","x":2528400,"y":490},{"s":"k3","x":2528480,"y":489},{"s":"k3","x":2528620,"y":489},{"s":"k3","x":2528640,"y":487},{"s":"k3","x":2528660,"y":485},{"s":"k3","x":2528680,"y":483},{"s":"k3","x":2528750,"y":483},
{"s":"k4","x":2526251,"y":508},{"s":"k4","x":2526870,"y":507},{"s":"k4","x":2527300,"y":506},{"s":"k4","x":2528100,"y":506},{"s":"k4","x":2528140,"y":503},{"s":"k4","x":2528350,"y":502},{"s":"k4","x":2528750,"y":502},
{"s":"r3","x":2526251,"y":530},{"s":"r3","x":2526300,"y":529},{"s":"r3","x":2526600,"y":528},{"s":"r3","x":2526870,"y":529},{"s":"r3","x":2527100,"y":528},{"s":"r3","x":2527190,"y":529},{"s":"r3","x":2527250,"y":530},{"s":"r3","x":2527300,"y":531},{"s":"r3","x":2527330,"y":532},{"s":"r3","x":2528100,"y":532},{"s":"r3","x":2528120,"y":531},{"s":"r3","x":2528140,"y":529},{"s":"r3","x":2528300,"y":530},{"s":"r3","x":2528360,"y":529},{"s":"r3","x":2528750,"y":529},
{"s":"e1","x":2526251,"y":531},{"s":"e1","x":2526290,"y":530},{"s":"e1","x":2526880,"y":531},{"s":"e1","x":2527050,"y":530},{"s":"e1","x":2527300,"y":529},{"s":"e1","x":2527700,"y":530},{"s":"e1","x":2528100,"y":529},{"s":"e1","x":2528340,"y":527},{"s":"e1","x":2528600,"y":526},{"s":"e1","x":2528650,"y":524},{"s":"e1","x":2528750,"y":524}],
"t4":[
{"s":"ru1","x":2526251,"y":615},{"s":"ru1","x":2526276,"y":614},{"s":"ru1","x":2526302,"y":612},{"s":"ru1","x":2526320,"y":611},{"s":"ru1","x":2526345,"y":609},{"s":"ru1","x":2526378,"y":611},{"s":"ru1","x":2526403,"y":613},{"s":"ru1","x":2526490,"y":615},{"s":"ru1","x":2526632,"y":614},{"s":"ru1","x":2526784,"y":612},{"s":"ru1","x":2526830,"y":611},{"s":"ru1","x":2526845,"y":608},{"s":"ru1","x":2526855,"y":605},{"s":"ru1","x":2526866,"y":603},{"s":"ru1","x":2526873,"y":601},{"s":"ru1","x":2526929,"y":602},{"s":"ru1","x":2526937,"y":606},{"s":"ru1","x":2526944,"y":610},{"s":"ru1","x":2526952,"y":614},{"s":"ru1","x":2527030,"y":612},{"s":"ru1","x":2527064,"y":611},{"s":"ru1","x":2527216,"y":611},{"s":"ru1","x":2527280,"y":613},{"s":"ru1","x":2527500,"y":614},{"s":"ru1","x":2527589,"y":612},{"s":"ru1","x":2527617,"y":609},{"s":"ru1","x":2527678,"y":611},{"s":"ru1","x":2527720,"y":613},{"s":"ru1","x":2527950,"y":612},{"s":"ru1","x":2528029,"y":614},{"s":"ru1","x":2528123,"y":612},{"s":"ru1","x":2528257,"y":613},{"s":"ru1","x":2528410,"y":612},{"s":"ru1","x":2528549,"y":610},{"s":"ru1","x":2528620,"y":612},{"s":"ru1","x":2528676,"y":614},{"s":"ru1","x":2528750,"y":614},
{"s":"ru3","x":2526251,"y":616},{"s":"ru3","x":2526276,"y":615},{"s":"ru3","x":2526302,"y":613},{"s":"ru3","x":2526320,"y":612},{"s":"ru3","x":2526345,"y":610},{"s":"ru3","x":2526378,"y":612},{"s":"ru3","x":2526403,"y":614},{"s":"ru3","x":2526490,"y":616},{"s":"ru3","x":2526632,"y":615},{"s":"ru3","x":2526784,"y":613},{"s":"ru3","x":2526830,"y":612},{"s":"ru3","x":2526845,"y":609},{"s":"ru3","x":2526855,"y":606},{"s":"ru3","x":2526866,"y":604},{"s":"ru3","x":2526873,"y":602},{"s":"ru3","x":2526929,"y":603},{"s":"ru3","x":2526937,"y":607},{"s":"ru3","x":2526944,"y":611},{"s":"ru3","x":2526952,"y":615},{"s":"ru3","x":2527030,"y":613},{"s":"ru3","x":2527064,"y":612},{"s":"ru3","x":2527216,"y":612},{"s":"ru3","x":2527280,"y":614},{"s":"ru3","x":2527500,"y":615},{"s":"ru3","x":2527589,"y":613},{"s":"ru3","x":2527617,"y":610},{"s":"ru3","x":2527678,"y":612},{"s":"ru3","x":2527720,"y":614},{"s":"ru3","x":2527950,"y":613},{"s":"ru3","x":2528029,"y":615},{"s":"ru3","x":2528123,"y":613},{"s":"ru3","x":2528257,"y":614},{"s":"ru3","x":2528410,"y":613},{"s":"ru3","x":2528549,"y":611},{"s":"ru3","x":2528620,"y":613},{"s":"ru3","x":2528676,"y":615},{"s":"ru3","x":2528750,"y":615},
{"s":"ru2","x":2526251,"y":617},{"s":"ru2","x":2526302,"y":614},{"s":"ru2","x":2526345,"y":611},{"s":"ru2","x":2526378,"y":613},{"s":"ru2","x":2526403,"y":614},{"s":"ru2","x":2526490,"y":618},{"s":"ru2","x":2526632,"y":616},{"s":"ru2","x":2526784,"y":613},{"s":"ru2","x":2526830,"y":612},{"s":"ru2","x":2526855,"y":607},{"s":"ru2","x":2526873,"y":604},{"s":"ru2","x":2526929,"y":606},{"s":"ru2","x":2526944,"y":612},{"s":"ru2","x":2526952,"y":616},{"s":"ru2","x":2527030,"y":614},{"s":"ru2","x":2527064,"y":613},{"s":"ru2","x":2527216,"y":612},{"s":"ru2","x":2527280,"y":614},{"s":"ru2","x":2527330,"y":616},{"s":"ru2","x":2527500,"y":616},{"s":"ru2","x":2527589,"y":614},{"s":"ru2","x":2527617,"y":610},{"s":"ru2","x":2527678,"y":613},{"s":"ru2","x":2527720,"y":615},{"s":"ru2","x":2527950,"y":614},{"s":"ru2","x":2528029,"y":616},{"s":"ru2","x":2528123,"y":614},{"s":"ru2","x":2528257,"y":613},{"s":"ru2","x":2528410,"y":613},{"s":"ru2","x":2528549,"y":611},{"s":"ru2","x":2528620,"y":614},{"s":"ru2","x":2528676,"y":618},{"s":"ru2","x":2528750,"y":618},
{"s":"ku1","x":2526251,"y":609},{"s":"ku1","x":2526302,"y":608},{"s":"ku1","x":2526345,"y":603},{"s":"ku1","x":2526378,"y":605},{"s":"ku1","x":2526403,"y":607},{"s":"ku1","x":2526454,"y":608},{"s":"ku1","x":2526497,"y":609},{"s":"ku1","x":2526619,"y":608},{"s":"ku1","x":2526708,"y":607},{"s":"ku1","x":2526777,"y":605},{"s":"ku1","x":2526800,"y":604},{"s":"ku1","x":2526827,"y":603},{"s":"ku1","x":2526850,"y":601},{"s":"ku1","x":2526866,"y":599},{"s":"ku1","x":2526873,"y":597},{"s":"ku1","x":2526929,"y":598},{"s":"ku1","x":2526937,"y":602},{"s":"ku1","x":2526944,"y":606},{"s":"ku1","x":2527064,"y":605},{"s":"ku1","x":2527107,"y":604},{"s":"ku1","x":2527234,"y":606},{"s":"ku1","x":2527267,"y":608},{"s":"ku1","x":2527500,"y":608},{"s":"ku1","x":2527589,"y":607},{"s":"ku1","x":2527617,"y":605},{"s":"ku1","x":2527678,"y":607},{"s":"ku1","x":2527704,"y":606},{"s":"ku1","x":2527851,"y":608},{"s":"ku1","x":2528029,"y":607},{"s":"ku1","x":2528123,"y":606},{"s":"ku1","x":2528257,"y":608},{"s":"ku1","x":2528435,"y":607},{"s":"ku1","x":2528549,"y":605},{"s":"ku1","x":2528620,"y":607},{"s":"ku1","x":2528676,"y":609},{"s":"ku1","x":2528750,"y":609},
{"s":"ku3","x":2526251,"y":610},{"s":"ku3","x":2526302,"y":609},{"s":"ku3","x":2526345,"y":604},{"s":"ku3","x":2526378,"y":606},{"s":"ku3","x":2526403,"y":608},{"s":"ku3","x":2526454,"y":609},{"s":"ku3","x":2526497,"y":610},{"s":"ku3","x":2526619,"y":609},{"s":"ku3","x":2526708,"y":608},{"s":"ku3","x":2526777,"y":606},{"s":"ku3","x":2526800,"y":605},{"s":"ku3","x":2526827,"y":604},{"s":"ku3","x":2526850,"y":602},{"s":"ku3","x":2526866,"y":600},{"s":"ku3","x":2526873,"y":598},{"s":"ku3","x":2526929,"y":599},{"s":"ku3","x":2526937,"y":603},{"s":"ku3","x":2526944,"y":607},{"s":"ku3","x":2527064,"y":606},{"s":"ku3","x":2527107,"y":605},{"s":"ku3","x":2527234,"y":607},{"s":"ku3","x":2527267,"y":609},{"s":"ku3","x":2527500,"y":609},{"s":"ku3","x":2527589,"y":608},{"s":"ku3","x":2527617,"y":606},{"s":"ku3","x":2527678,"y":608},{"s":"ku3","x":2527704,"y":607},{"s":"ku3","x":2527851,"y":609},{"s":"ku3","x":2528029,"y":608},{"s":"ku3","x":2528123,"y":607},{"s":"ku3","x":2528257,"y":609},{"s":"ku3","x":2528435,"y":608},{"s":"ku3","x":2528549,"y":606},{"s":"ku3","x":2528620,"y":608},{"s":"ku3","x":2528676,"y":610},{"s":"ku3","x":2528750,"y":610},
{"s":"ku2","x":2526251,"y":610},{"s":"ku2","x":2526302,"y":609},{"s":"ku2","x":2526345,"y":605},{"s":"ku2","x":2526378,"y":606},{"s":"ku2","x":2526403,"y":608},{"s":"ku2","x":2526497,"y":611},{"s":"ku2","x":2526619,"y":610},{"s":"ku2","x":2526708,"y":609},{"s":"ku2","x":2526777,"y":607},{"s":"ku2","x":2526827,"y":605},{"s":"ku2","x":2526866,"y":602},{"s":"ku2","x":2526873,"y":600},{"s":"ku2","x":2526929,"y":600},{"s":"ku2","x":2526937,"y":604},{"s":"ku2","x":2526944,"y":607},{"s":"ku2","x":2527064,"y":607},{"s":"ku2","x":2527107,"y":606},{"s":"ku2","x":2527234,"y":607},{"s":"ku2","x":2527267,"y":609},{"s":"ku2","x":2527500,"y":610},{"s":"ku2","x":2527589,"y":609},{"s":"ku2","x":2527617,"y":606},{"s":"ku2","x":2527678,"y":608},{"s":"ku2","x":2527704,"y":610},{"s":"ku2","x":2527851,"y":610},{"s":"ku2","x":2528029,"y":609},{"s":"ku2","x":2528123,"y":609},{"s":"ku2","x":2528257,"y":610},{"s":"ku2","x":2528435,"y":609},{"s":"ku2","x":2528549,"y":606},{"s":"ku2","x":2528620,"y":609},{"s":"ku2","x":2528676,"y":611},{"s":"ku2","x":2528750,"y":611},
{"s":"rl1","x":2526251,"y":652},{"s":"rl1","x":2526302,"y":651},{"s":"rl1","x":2526454,"y":652},{"s":"rl1","x":2526530,"y":655},{"s":"rl1","x":2526619,"y":651},{"s":"rl1","x":2527013,"y":651},{"s":"rl1","x":2527216,"y":654},{"s":"rl1","x":2527267,"y":657},{"s":"rl1","x":2527318,"y":659},{"s":"rl1","x":2527343,"y":661},{"s":"rl1","x":2527394,"y":658},{"s":"rl1","x":2527500,"y":658},{"s":"rl1","x":2527589,"y":656},{"s":"rl1","x":2527678,"y":657},{"s":"rl1","x":2527760,"y":654},{"s":"rl1","x":2527840,"y":652},{"s":"rl1","x":2527900,"y":651},{"s":"rl1","x":2528105,"y":649},{"s":"rl1","x":2528257,"y":653},{"s":"rl1","x":2528370,"y":654},{"s":"rl1","x":2528460,"y":652},{"s":"rl1","x":2528600,"y":651},{"s":"rl1","x":2528750,"y":651},
{"s":"rl3","x":2526251,"y":653},{"s":"rl3","x":2526302,"y":652},{"s":"rl3","x":2526454,"y":653},{"s":"rl3","x":2526530,"y":656},{"s":"rl3","x":2526619,"y":652},{"s":"rl3","x":2527013,"y":652},{"s":"rl3","x":2527216,"y":655},{"s":"rl3","x":2527267,"y":658},{"s":"rl3","x":2527318,"y":660},{"s":"rl3","x":2527343,"y":662},{"s":"rl3","x":2527394,"y":659},{"s":"rl3","x":2527500,"y":659},{"s":"rl3","x":2527589,"y":657},{"s":"rl3","x":2527678,"y":658},{"s":"rl3","x":2527760,"y":655},{"s":"rl3","x":2527840,"y":653},{"s":"rl3","x":2527900,"y":652},{"s":"rl3","x":2528105,"y":650},{"s":"rl3","x":2528257,"y":654},{"s":"rl3","x":2528370,"y":655},{"s":"rl3","x":2528460,"y":653},{"s":"rl3","x":2528600,"y":652},{"s":"rl3","x":2528750,"y":652},
{"s":"rl2","x":2526251,"y":655},{"s":"rl2","x":2526302,"y":653},{"s":"rl2","x":2526454,"y":654},{"s":"rl2","x":2526530,"y":656},{"s":"rl2","x":2526619,"y":652},{"s":"rl2","x":2527013,"y":652},{"s":"rl2","x":2527216,"y":655},{"s":"rl2","x":2527267,"y":656},{"s":"rl2","x":2527318,"y":660},{"s":"rl2","x":2527343,"y":661},{"s":"rl2","x":2527394,"y":659},{"s":"rl2","x":2527500,"y":660},{"s":"rl2","x":2527589,"y":657},{"s":"rl2","x":2527678,"y":656},{"s":"rl2","x":2527760,"y":655},{"s":"rl2","x":2527840,"y":653},{"s":"rl2","x":2527900,"y":652},{"s":"rl2","x":2528105,"y":651},{"s":"rl2","x":2528257,"y":654},{"s":"rl2","x":2528370,"y":655},{"s":"rl2","x":2528460,"y":653},{"s":"rl2","x":2528600,"y":652},{"s":"rl2","x":2528750,"y":652},
{"s":"kl1","x":2526251,"y":649},{"s":"kl1","x":2526302,"y":649},{"s":"kl1","x":2526345,"y":651},{"s":"kl1","x":2526403,"y":652},{"s":"kl1","x":2526454,"y":653},{"s":"kl1","x":2526581,"y":653},{"s":"kl1","x":2526632,"y":649},{"s":"kl1","x":2527013,"y":650},{"s":"kl1","x":2527216,"y":651},{"s":"kl1","x":2527267,"y":655},{"s":"kl1","x":2527318,"y":658},{"s":"kl1","x":2527343,"y":662},{"s":"kl1","x":2527394,"y":659},{"s":"kl1","x":2527530,"y":659},{"s":"kl1","x":2527589,"y":653},{"s":"kl1","x":2527700,"y":654},{"s":"kl1","x":2527820,"y":652},{"s":"kl1","x":2527900,"y":651},{"s":"kl1","x":2528105,"y":649},{"s":"kl1","x":2528290,"y":651},{"s":"kl1","x":2528370,"y":649},{"s":"kl1","x":2528460,"y":648},{"s":"kl1","x":2528600,"y":646},{"s":"kl1","x":2528676,"y":642},{"s":"kl1","x":2528750,"y":642},
{"s":"kl2","x":2526251,"y":654},{"s":"kl2","x":2526345,"y":655},{"s":"kl2","x":2526378,"y":654},{"s":"kl2","x":2526403,"y":652},{"s":"kl2","x":2526454,"y":654},{"s":"kl2","x":2526632,"y":653},{"s":"kl2","x":2526700,"y":654},{"s":"kl2","x":2527013,"y":652},{"s":"kl2","x":2527216,"y":653},{"s":"kl2","x":2527267,"y":656},{"s":"kl2","x":2527318,"y":660},{"s":"kl2","x":2527343,"y":663},{"s":"kl2","x":2527394,"y":660},{"s":"kl2","x":2527540,"y":659},{"s":"kl2","x":2527589,"y":654},{"s":"kl2","x":2527700,"y":655},{"s":"kl2","x":2527820,"y":653},{"s":"kl2","x":2527900,"y":650},{"s":"kl2","x":2528105,"y":650},{"s":"kl2","x":2528257,"y":652},{"s":"kl2","x":2528370,"y":653},{"s":"kl2","x":2528460,"y":650},{"s":"kl2","x":2528600,"y":650},{"s":"kl2","x":2528676,"y":646},{"s":"kl2","x":2528750,"y":646},
{"s":"kl3","x":2528400,"y":649},{"s":"kl3","x":2528500,"y":647},{"s":"kl3","x":2528620,"y":646},{"s":"kl3","x":2528660,"y":643},{"s":"kl3","x":2528690,"y":641},{"s":"kl3","x":2528750,"y":641}]
},
"layer":[
{"data":{"name":"hlines"},"mark":{"type":"rule","color":"#000000","strokeWidth":1},
 "encoding":{"x":{"datum":2526251,"type":"quantitative","scale":{"domain":[2526200.21,2528800.79],"nice":false,"zero":false},"axis":null},"x2":{"datum":2528750},
  "y":{"field":"level","type":"quantitative","scale":{"domain":[-0.5,713.5],"nice":false,"zero":false,"reverse":true},"axis":null}}},
{"data":{"name":"ticks"},"mark":{"type":"rule","color":"#000000","strokeWidth":1},
 "encoding":{"x":{"field":"pos","type":"quantitative","scale":{"domain":[2526200.21,2528800.79],"nice":false,"zero":false},"axis":null},
  "y":{"datum":35,"type":"quantitative","scale":{"domain":[-0.5,713.5],"nice":false,"zero":false,"reverse":true},"axis":null},"y2":{"datum":42}}},
{"data":{"values":[{"pos":2526251,"label":"2 526 251"}]},"mark":{"type":"text","align":"left","baseline":"alphabetic"},
 "encoding":{"x":{"field":"pos","type":"quantitative","scale":{"domain":[2526200.21,2528800.79],"nice":false,"zero":false},"axis":null},
  "y":{"datum":23.5,"type":"quantitative","scale":{"domain":[-0.5,713.5],"nice":false,"zero":false,"reverse":true},"axis":null},"text":{"field":"label"}}},
{"data":{"values":[{"pos":2528750,"label":"2 528 750"}]},"mark":{"type":"text","align":"right","baseline":"alphabetic"},
 "encoding":{"x":{"field":"pos","type":"quantitative","scale":{"domain":[2526200.21,2528800.79],"nice":false,"zero":false},"axis":null},
  "y":{"datum":23.5,"type":"quantitative","scale":{"domain":[-0.5,713.5],"nice":false,"zero":false,"reverse":true},"axis":null},"text":{"field":"label"}}},
{"data":{"name":"genes"},"transform":[{"filter":"datum.head"}],"mark":{"type":"rect","color":"#000000","xOffset":9},
 "encoding":{"x":{"field":"start","type":"quantitative","scale":{"domain":[2526200.21,2528800.79],"nice":false,"zero":false},"axis":null},"x2":{"field":"end"},
  "y":{"datum":75.5,"type":"quantitative","scale":{"domain":[-0.5,713.5],"nice":false,"zero":false,"reverse":true},"axis":null},"y2":{"datum":88.5}}},
{"data":{"name":"genes"},"transform":[{"filter":"!datum.head"}],"mark":{"type":"rect","color":"#000000"},
 "encoding":{"x":{"field":"start","type":"quantitative","scale":{"domain":[2526200.21,2528800.79],"nice":false,"zero":false},"axis":null},"x2":{"field":"end"},
  "y":{"datum":75.5,"type":"quantitative","scale":{"domain":[-0.5,713.5],"nice":false,"zero":false,"reverse":true},"axis":null},"y2":{"datum":88.5}}},
{"data":{"name":"genes"},"transform":[{"filter":"datum.head"}],"mark":{"type":"point","shape":"M0.4545,-1L-0.4545,0L0.4545,1Z","filled":true,"size":484,"opacity":1,"color":"#000000","strokeWidth":0,"xOffset":5},
 "encoding":{"x":{"field":"start","type":"quantitative","scale":{"domain":[2526200.21,2528800.79],"nice":false,"zero":false},"axis":null},
  "y":{"datum":82.5,"type":"quantitative","scale":{"domain":[-0.5,713.5],"nice":false,"zero":false,"reverse":true},"axis":null}}},
{"data":{"name":"genes"},"transform":[{"filter":"datum.endtick"}],"mark":{"type":"rule","color":"#000000","strokeWidth":1},
 "encoding":{"x":{"field":"end","type":"quantitative","scale":{"domain":[2526200.21,2528800.79],"nice":false,"zero":false},"axis":null},
  "y":{"datum":71.5,"type":"quantitative","scale":{"domain":[-0.5,713.5],"nice":false,"zero":false,"reverse":true},"axis":null},"y2":{"datum":93.5}}},
{"data":{"name":"genes"},"transform":[{"filter":"datum.lane==0"}],"mark":{"type":"text","align":"center","baseline":"alphabetic"},
 "encoding":{"x":{"field":"mid","type":"quantitative","scale":{"domain":[2526200.21,2528800.79],"nice":false,"zero":false},"axis":null},
  "y":{"datum":100.5,"type":"quantitative","scale":{"domain":[-0.5,713.5],"nice":false,"zero":false,"reverse":true},"axis":null},"text":{"field":"gene"}}},
{"data":{"name":"genes"},"transform":[{"filter":"datum.lane==1"}],"mark":{"type":"text","align":"center","baseline":"alphabetic"},
 "encoding":{"x":{"field":"mid","type":"quantitative","scale":{"domain":[2526200.21,2528800.79],"nice":false,"zero":false},"axis":null},
  "y":{"datum":110.5,"type":"quantitative","scale":{"domain":[-0.5,713.5],"nice":false,"zero":false,"reverse":true},"axis":null},"text":{"field":"gene"}}},
{"data":{"name":"genes"},"transform":[{"filter":"datum.lane==2"}],"mark":{"type":"text","align":"center","baseline":"alphabetic"},
 "encoding":{"x":{"field":"mid","type":"quantitative","scale":{"domain":[2526200.21,2528800.79],"nice":false,"zero":false},"axis":null},
  "y":{"datum":121.5,"type":"quantitative","scale":{"domain":[-0.5,713.5],"nice":false,"zero":false,"reverse":true},"axis":null},"text":{"field":"gene"}}},
{"data":{"name":"features"},"transform":[{"filter":"datum.kind=='gene'"}],"mark":{"type":"rect","fill":"#ffffff","stroke":"#ff0000","strokeWidth":1},
 "encoding":{"x":{"field":"start","type":"quantitative","scale":{"domain":[2526200.21,2528800.79],"nice":false,"zero":false},"axis":null},"x2":{"field":"end"},
  "y":{"datum":207,"type":"quantitative","scale":{"domain":[-0.5,713.5],"nice":false,"zero":false,"reverse":true},"axis":null},"y2":{"datum":217}}},
{"data":{"name":"features"},"transform":[{"filter":"datum.kind=='region'"}],"mark":{"type":"rect","fill":"#000096","stroke":"#000096","strokeWidth":1},
 "encoding":{"x":{"field":"start","type":"quantitative","scale":{"domain":[2526200.21,2528800.79],"nice":false,"zero":false},"axis":null},"x2":{"field":"end"},
  "y":{"datum":207,"type":"quantitative","scale":{"domain":[-0.5,713.5],"nice":false,"zero":false,"reverse":true},"axis":null},"y2":{"datum":217}}},
{"data":{"name":"features"},"transform":[{"filter":"datum.kind=='gene'"}],"mark":{"type":"text","align":"center","baseline":"alphabetic"},
 "encoding":{"x":{"field":"mid","type":"quantitative","scale":{"domain":[2526200.21,2528800.79],"nice":false,"zero":false},"axis":null},
  "y":{"datum":202.5,"type":"quantitative","scale":{"domain":[-0.5,713.5],"nice":false,"zero":false,"reverse":true},"axis":null},"text":{"field":"name"}}},
{"data":{"name":"features"},"transform":[{"filter":"datum.kind=='region'"}],"mark":{"type":"text","align":"center","baseline":"alphabetic"},
 "encoding":{"x":{"field":"mid","type":"quantitative","scale":{"domain":[2526200.21,2528800.79],"nice":false,"zero":false},"axis":null},
  "y":{"datum":227.5,"type":"quantitative","scale":{"domain":[-0.5,713.5],"nice":false,"zero":false,"reverse":true},"axis":null},"text":{"field":"name"}}},
{"data":{"name":"band"},"transform":[{"lookup":"s","from":{"data":{"name":"series"},"key":"s","fields":["c"]}}],
 "mark":{"type":"line","interpolate":"step-after","strokeWidth":1},
 "encoding":{"x":{"field":"x","type":"quantitative","scale":{"domain":[2526200.21,2528800.79],"nice":false,"zero":false},"axis":null},
  "y":{"field":"y","type":"quantitative","scale":{"domain":[-0.5,713.5],"nice":false,"zero":false,"reverse":true},"axis":null},
  "detail":{"field":"s"},
  "color":{"field":"c","type":"nominal","legend":null,"scale":{"domain":["k","r","m","b","c","g","y","o","e","p","n"],"range":["#000000","#ff0000","#ff00ff","#2070ff","#00ffff","#22ff00","#d8f000","#ff9900","#999999","#aa44ff","#b08080"]}}}},
{"data":{"name":"outline"},"transform":[{"lookup":"s","from":{"data":{"name":"series"},"key":"s","fields":["c"]}}],
 "mark":{"type":"line","interpolate":"step-after","strokeWidth":1},
 "encoding":{"x":{"field":"x","type":"quantitative","scale":{"domain":[2526200.21,2528800.79],"nice":false,"zero":false},"axis":null},
  "y":{"field":"y","type":"quantitative","scale":{"domain":[-0.5,713.5],"nice":false,"zero":false,"reverse":true},"axis":null},
  "detail":{"field":"s"},
  "color":{"field":"c","type":"nominal","legend":null,"scale":{"domain":["k","r","m","b","c","g","y","o","e","p","n"],"range":["#000000","#ff0000","#ff00ff","#2070ff","#00ffff","#22ff00","#d8f000","#ff9900","#999999","#aa44ff","#b08080"]}}}},
{"data":{"name":"t4"},"transform":[{"lookup":"s","from":{"data":{"name":"series"},"key":"s","fields":["c"]}}],
 "mark":{"type":"line","interpolate":"step-after","strokeWidth":1},
 "encoding":{"x":{"field":"x","type":"quantitative","scale":{"domain":[2526200.21,2528800.79],"nice":false,"zero":false},"axis":null},
  "y":{"field":"y","type":"quantitative","scale":{"domain":[-0.5,713.5],"nice":false,"zero":false,"reverse":true},"axis":null},
  "detail":{"field":"s"},
  "color":{"field":"c","type":"nominal","legend":null,"scale":{"domain":["k","r","m","b","c","g","y","o","e","p","n"],"range":["#000000","#ff0000","#ff00ff","#2070ff","#00ffff","#22ff00","#d8f000","#ff9900","#999999","#aa44ff","#b08080"]}}}}
]
}
